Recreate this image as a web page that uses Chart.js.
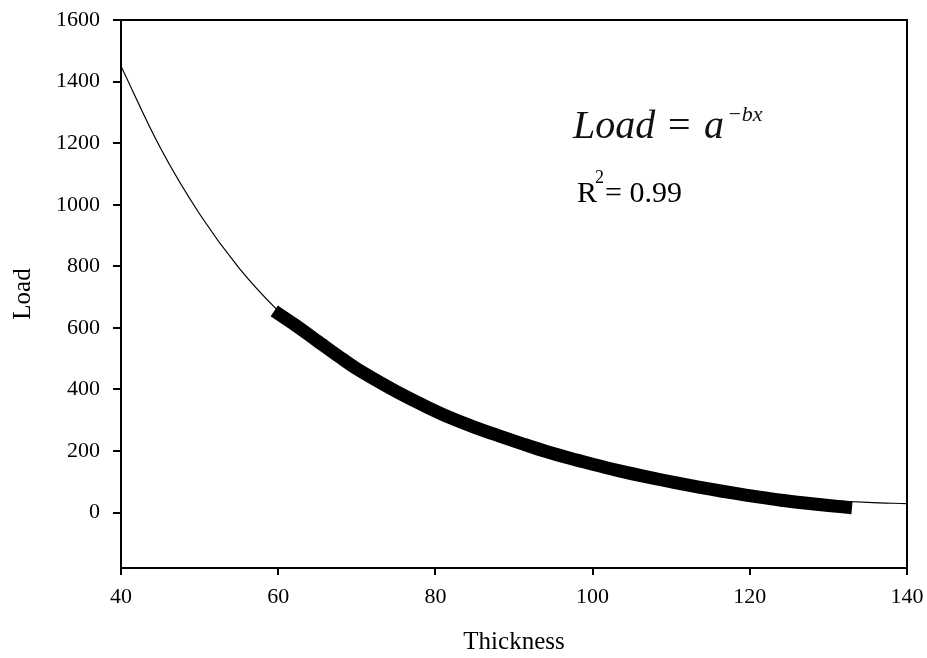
<!DOCTYPE html>
<html>
<head>
<meta charset="utf-8">
<script src="https://cdn.jsdelivr.net/npm/chart.js@4/dist/chart.umd.min.js"></script>
<style>
  html, body { margin: 0; padding: 0; background: #fff; }
  #wrap { width: 927px; height: 658px; }
</style>
</head>
<body>
<div id="wrap"><canvas id="chart1" width="927" height="658"></canvas></div>
<script>
// Fitted curve (thin line)
const fitX = [40, 45, 50, 55, 60, 65, 70, 75, 80, 85, 90, 95, 100, 105, 110, 115, 120, 125, 130, 135, 140];
const fitLoad = [1450, 1185, 970, 795, 655, 540, 450, 375, 315, 265, 222, 185, 152, 125, 102, 82, 64, 50, 40, 33, 29];

// Measured data (thick band)
const dataX = [59.5, 62, 65, 68, 70, 73, 76, 79, 82, 85, 88, 91, 94, 97, 100, 103, 106, 109, 112, 115, 118, 121, 124, 127, 130, 133];
const dataLoad = [655, 612, 557, 502, 467, 422, 380, 342, 307, 277, 250, 224, 199, 177, 157, 138, 121, 105, 90, 76, 63, 51, 40, 31, 23, 16];

const yTicks = [0, 200, 400, 600, 800, 1000, 1200, 1400, 1600];
const xTicks = [40, 60, 80, 100, 120, 140];

document.addEventListener("DOMContentLoaded", function () {
    const serif = "'Liberation Serif', 'Times New Roman', serif";

    // frame round the plot and the equation text
    const framePlugin = {
        id: 'frame',
        afterDraw(chart) {
            const { ctx, chartArea: a } = chart;
            ctx.save();
            ctx.strokeStyle = '#000';
            ctx.lineWidth = 2;
            ctx.strokeRect(a.left, a.top, a.right - a.left, a.bottom - a.top);

            ctx.fillStyle = '#111';
            ctx.textBaseline = 'alphabetic';
            ctx.textAlign = 'left';
            ctx.font = "italic 40px " + serif;
            ctx.fillText('Load', 573, 138);
            ctx.font = "40px " + serif;
            ctx.fillText('=', 668, 138);
            ctx.font = "italic 40px " + serif;
            ctx.fillText('a', 704, 138);
            ctx.font = "italic 22px " + serif;
            ctx.fillText('\u2212bx', 727, 121);

            ctx.fillStyle = '#000';
            ctx.font = "30px " + serif;
            ctx.fillText('R', 577, 202);
            ctx.font = "18px " + serif;
            ctx.fillText('2', 595, 183);
            ctx.font = "30px " + serif;
            ctx.fillText('= 0.99', 605, 202);
            ctx.restore();
        }
    };

    const ctx = document.getElementById('chart1').getContext('2d');
    new Chart(ctx, {
        type: 'line',
        data: {
            datasets: [{
                label: 'Data',
                data: dataX.map((x, i) => ({ x: x, y: dataLoad[i] })),
                borderColor: '#000',
                borderWidth: 13,
                borderCapStyle: 'butt',
                tension: 0.3,
                pointRadius: 0,
                fill: false
            }, {
                label: 'Fit',
                data: fitX.map((x, i) => ({ x: x, y: fitLoad[i] })),
                borderColor: '#000',
                borderWidth: 1.2,
                tension: 0.4,
                pointRadius: 0,
                fill: false
            }]
        },
        options: {
            responsive: false,
            animation: false,
            layout: { padding: { left: 0, right: 20, top: 20, bottom: 0 } },
            plugins: {
                legend: { display: false },
                tooltip: { enabled: false }
            },
            scales: {
                x: {
                    type: 'linear',
                    min: 40,
                    max: 140,
                    afterBuildTicks: s => { s.ticks = xTicks.map(v => ({ value: v })); },
                    afterFit: s => { s.height = 90; s.paddingLeft = 0; s.paddingRight = 0; },
                    border: { display: false },
                    grid: { drawOnChartArea: false, drawTicks: true, tickLength: 7, color: '#000', lineWidth: 2 },
                    ticks: { color: '#000', padding: 9, font: { family: serif, size: 22 }, callback: v => String(v) },
                    title: { display: true, text: 'Thickness', color: '#000', padding: { top: 0, bottom: 1 }, font: { family: serif, size: 25 } }
                },
                y: {
                    type: 'linear',
                    min: -180,
                    max: 1600,
                    afterBuildTicks: s => { s.ticks = yTicks.map(v => ({ value: v })); },
                    afterFit: s => { s.width = 121; s.paddingTop = 0; s.paddingBottom = 0; },
                    border: { display: false },
                    grid: { drawOnChartArea: false, drawTicks: true, tickLength: 8, color: '#000', lineWidth: 2 },
                    ticks: { color: '#000', padding: 13, font: { family: serif, size: 22 }, callback: v => String(v) },
                    title: { display: true, text: 'Load', color: '#000', padding: { top: 8, bottom: 0 }, font: { family: serif, size: 25 } }
                }
            }
        },
        plugins: [framePlugin]
    });
});
</script>
</body>
</html>
